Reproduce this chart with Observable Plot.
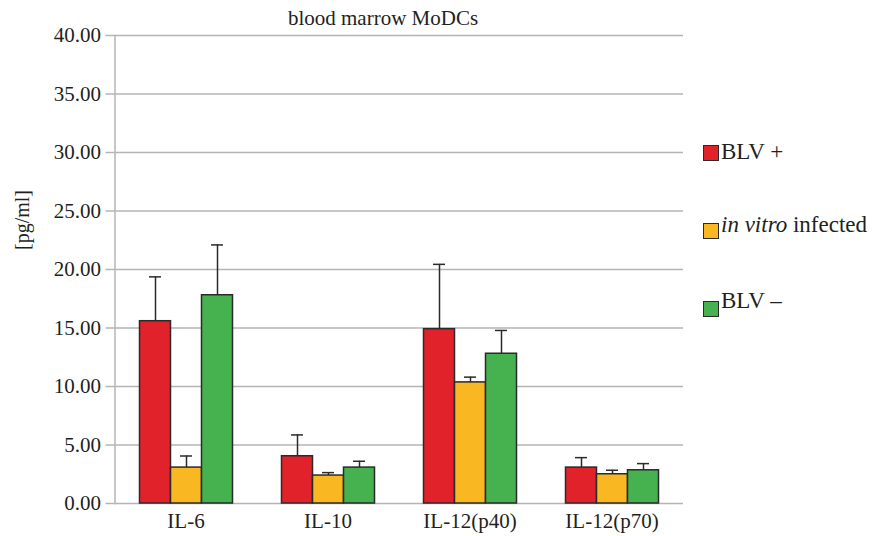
<!DOCTYPE html>
<html>
<head>
<meta charset="utf-8">
<script src="https://cdn.jsdelivr.net/npm/d3@7"></script>
<script src="https://cdn.jsdelivr.net/npm/@observablehq/plot@0.6"></script>
<style>
  html, body { margin: 0; padding: 0; background: #fff; }
  #wrap { position: relative; width: 879px; height: 536px; font-family: "Liberation Serif", "Times New Roman", serif; color: #231f20; }
  #wrap svg { position: absolute; left: 0; top: 0; }
  .title { position: absolute; left: 183px; top: 8px; width: 400px; text-align: center; font-size: 21px; line-height: 21px; }
  .ylab { position: absolute; left: -28px; top: 208px; width: 100px; height: 24px; line-height: 24px; text-align: center; font-size: 20px; transform: rotate(-90deg); }
  .leg { position: absolute; left: 721px; font-size: 23px; line-height: 23px; white-space: nowrap; }
  .sw { position: absolute; left: 703px; width: 14px; height: 14px; border: 1.2px solid #2a2a2a; }
</style>
</head>
<body>
<div id="wrap"></div>
<script>
// ---- data ----
const categories = ["IL-6", "IL-10", "IL-12(p40)", "IL-12(p70)"];
const series = ["BLV +", "in vitro infected", "BLV –"];
const colors = ["#e2222b", "#f9b822", "#45b14f"];
const blvPos = [15.58, 4.04, 14.9, 3.07];
const blvPosErr = [3.79, 1.82, 5.54, 0.85];
const inVitro = [3.07, 2.39, 10.35, 2.5];
const inVitroErr = [0.99, 0.25, 0.45, 0.34];
const blvNeg = [17.8, 3.07, 12.8, 2.84];
const blvNegErr = [4.3, 0.54, 1.99, 0.57];
const yTicks = [0, 5, 10, 15, 20, 25, 30, 35, 40];
const title = "blood marrow MoDCs";
const yLabel = "[pg/ml]";

const valueSets = [blvPos, inVitro, blvNeg];
const errSets = [blvPosErr, inVitroErr, blvNegErr];
const rows = [];
categories.forEach((c, i) => {
  series.forEach((s, j) => {
    rows.push({category: c, series: s, value: valueSets[j][i], err: errSets[j][i]});
  });
});

const common = {
  width: 879,
  height: 536,
  marginLeft: 114.5,
  marginRight: 196,
  marginTop: 35,
  marginBottom: 33,
  style: {fontFamily: "'Liberation Serif', 'Times New Roman', serif", fontSize: "21px", color: "#231f20", background: "transparent"}
};

// base layer: grid, y axis
const base = Plot.plot({
  ...common,
  y: {domain: [0, 40], label: null},
  marks: [
    Plot.ruleY(yTicks, {stroke: "#b4b4b4", strokeWidth: 1.5}),
    Plot.frame({anchor: "left", stroke: "#b4b4b4", strokeWidth: 1.5}),
    Plot.axisY({ticks: yTicks, tickFormat: d3.format(".2f"), tickSize: 9, tickPadding: 5, stroke: "#b4b4b4", strokeWidth: 1.5, fill: "#231f20", fontSize: 21, label: null})
  ]
});

// bars layer (faceted by cytokine)
const bars = Plot.plot({
  ...common,
  fx: {domain: categories, paddingInner: 0.33, paddingOuter: 0.165, label: null},
  x: {domain: series, padding: 0, axis: null},
  y: {domain: [0, 40], axis: null},
  color: {domain: series, range: colors},
  marks: [
    Plot.axisFx({anchor: "bottom", tickSize: 0, tickPadding: 10, fontSize: 21, fill: "#231f20", label: null}),
    Plot.ruleX(rows, {fx: "category", x: "series", y1: "value", y2: d => d.value + d.err, stroke: "#2a2a2a", strokeWidth: 1.5}),
    Plot.tickY(rows, {fx: "category", x: "series", y: d => d.value + d.err, stroke: "#2a2a2a", strokeWidth: 1.5, insetLeft: 9.5, insetRight: 9.5}),
    Plot.barY(rows, {fx: "category", x: "series", y: "value", fill: "series", stroke: "#2a2a2a", strokeWidth: 1.5})
  ]
});

const wrap = document.getElementById("wrap");
wrap.appendChild(base);
wrap.appendChild(bars);

const t = document.createElement("div");
t.className = "title";
t.textContent = title;
wrap.appendChild(t);

const yl = document.createElement("div");
yl.className = "ylab";
yl.textContent = yLabel;
wrap.appendChild(yl);

// legend (HTML, right of chart)
const legTops = [140, 212.5, 289];
const swTops = [145, 222.5, 300.5];
series.forEach((s, j) => {
  const sw = document.createElement("div");
  sw.className = "sw";
  sw.style.top = swTops[j] + "px";
  sw.style.background = colors[j];
  wrap.appendChild(sw);
  const lab = document.createElement("div");
  lab.className = "leg";
  lab.style.top = legTops[j] + "px";
  if (s === "in vitro infected") {
    lab.innerHTML = "<i>in vitro</i> infected";
  } else {
    lab.textContent = s;
  }
  wrap.appendChild(lab);
});
</script>
</body>
</html>
